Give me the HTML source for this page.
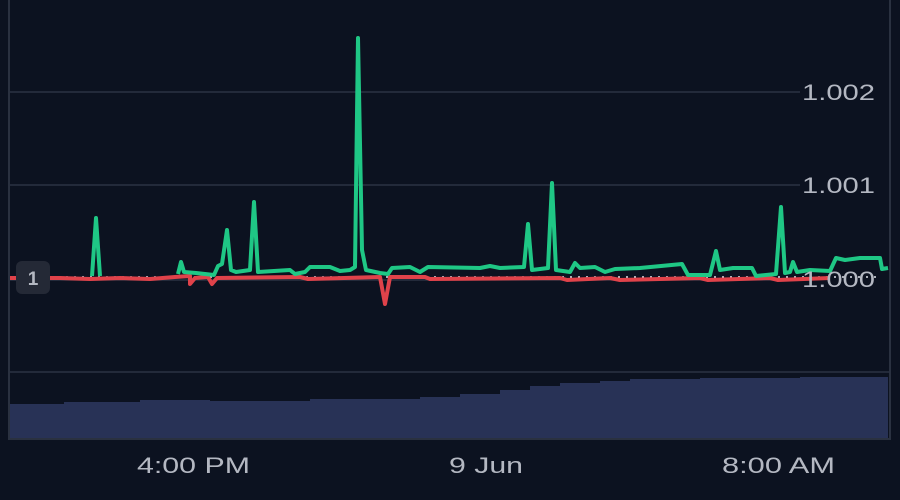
<!DOCTYPE html>
<html><head><style>
html,body{margin:0;padding:0;background:#0c1220;}
svg{display:block}
text{font-family:"Liberation Sans",sans-serif;}
</style></head><body>
<svg width="900" height="500" viewBox="0 0 900 500">
<rect width="900" height="500" fill="#0c1220"/>
<line x1="9" y1="0" x2="9" y2="440" stroke="#2a3140" stroke-width="2"/>
<line x1="890" y1="0" x2="890" y2="440" stroke="#2a3140" stroke-width="2"/>
<line x1="9" y1="439" x2="890" y2="439" stroke="#2a3140" stroke-width="2"/>
<g stroke="#2b3342" stroke-width="1.5">
<line x1="10" y1="92" x2="800" y2="92"/>
<line x1="10" y1="185" x2="800" y2="185"/>
<line x1="10" y1="280" x2="800" y2="280"/>
<line x1="10" y1="372" x2="890" y2="372"/>
</g>
<path d="M10 404 L64 404 L64 402 L140 402 L140 400 L210 400 L210 401 L310 401 L310 399 L420 399 L420 397 L460 397 L460 394 L500 394 L500 390 L530 390 L530 386 L560 386 L560 383 L600 383 L600 381 L630 381 L630 379 L700 379 L700 378 L800 378 L800 377 L888 377 L888 438 L10 438 Z" fill="#283256"/>
<line x1="10" y1="277" x2="880" y2="277" stroke="#e0e3ea" stroke-width="1.5" stroke-dasharray="2 6"/>
<path d="M10 278 L60 278 L90 279 L120 278 L150 279 L175 277 L190 276 L190 284 L195 278 L208 277 L212 284 L217 278 L300 277 L308 279 L380 277 L385 304 L390 277 L425 277 L430 279 L560 278 L567 280 L610 278 L620 280 L700 278 L708 280 L770 278 L778 280 L830 278" fill="none" stroke="#e0424a" stroke-width="4" stroke-linejoin="round"/>
<path d="M92 276 L96 218 L100 276 M178 274 L181 262 L184 272 L196 273 L214 275 L218 266 L222 264 L227 230 L231 270 L236 272 L250 270 L254 202 L258 272 L290 270 L295 274 L305 272 L310 267 L330 267 L340 271 L350 270 L355 267 L358 38 L362 250 L366 270 L380 273 L388 274 L392 268 L410 267 L420 272 L428 267 L480 268 L490 266 L500 268 L524 267 L528 224 L532 270 L548 268 L552 183 L556 270 L570 272 L575 263 L580 268 L595 267 L605 272 L615 269 L640 268 L682 264 L688 275 L710 275 L716 251 L720 270 L733 268 L752 268 L756 276 L776 274 L781 207 L785 273 L790 272 L793 262 L797 272 L810 270 L830 271 L836 258 L845 260 L860 258 L880 258 L882 269 L888 268" fill="none" stroke="#1fc785" stroke-width="4" stroke-linejoin="round"/>
<g fill="#b4b8c2" font-size="22">
<text x="802" y="100" textLength="73" lengthAdjust="spacingAndGlyphs">1.002</text>
<text x="802" y="193" textLength="73" lengthAdjust="spacingAndGlyphs">1.001</text>
<text x="802" y="287" textLength="73" lengthAdjust="spacingAndGlyphs">1.000</text>
</g>
<rect x="16" y="261" width="34" height="33" rx="6" fill="#242936"/>
<text x="33" y="285" fill="#b4b8c2" font-size="19" font-weight="bold" text-anchor="middle">1</text>
<g fill="#b4b8c2" font-size="22">
<text x="137" y="473" textLength="113" lengthAdjust="spacingAndGlyphs">4:00 PM</text>
<text x="449" y="473" textLength="74" lengthAdjust="spacingAndGlyphs">9 Jun</text>
<text x="722" y="473" textLength="113" lengthAdjust="spacingAndGlyphs">8:00 AM</text>
</g>
</svg>
</body></html>
